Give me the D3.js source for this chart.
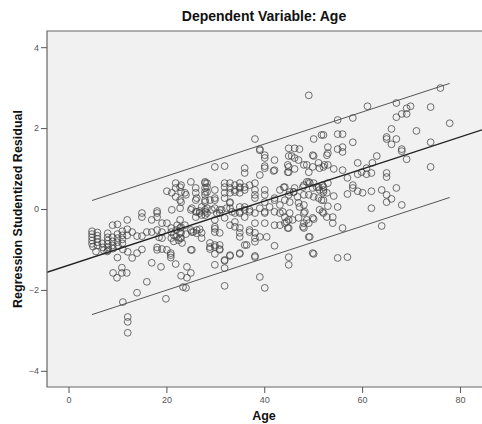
<!DOCTYPE html>
<html>
<head>
<meta charset="utf-8">
<script src="https://cdn.jsdelivr.net/npm/d3@7"></script>
<style>
  body { margin: 0; background: #fff; }
  text { font-family: "Liberation Sans", Arial, sans-serif; }
</style>
</head>
<body>
<div id="chart"></div>
<script>
// [age, studentized residual]
var points = [
  [4.8,-0.55],[4.8,-0.62],[4.8,-0.70],[4.8,-0.78],[4.8,-0.86],[5.0,-0.93],
  [5.9,-0.58],[5.9,-0.66],[5.9,-0.74],[5.9,-0.82],[5.9,-0.90],[5.6,-1.05],
  [6.9,-0.85],[7.0,-0.95],[7.2,-1.02],[7.9,-1.05],
  [8.0,-0.60],[8.0,-0.70],[8.0,-0.78],[8.0,-0.86],[8.1,-0.95],[8.1,-1.02],
  [9.0,-0.40],[9.0,-0.70],[9.0,-0.80],[9.0,-0.90],[9.1,-0.98],
  [10.0,-0.38],[10.0,-0.62],[10.0,-0.72],[10.0,-0.82],[10.0,-1.20],[10.1,-0.92],
  [11.0,-0.55],[11.0,-0.65],[11.0,-0.75],[11.0,-0.85],[11.1,-1.00],
  [12.0,-0.27],[12.0,-0.50],[12.1,-1.06],[12.0,-0.65],
  [13.0,-0.57],[13.0,-1.21],[14.0,-0.67],[14.0,-1.09],[15.0,-1.00],[15.0,-0.20],[15.0,-0.10],
  [9.1,-1.58],[9.9,-1.70],[10.9,-1.58],[11.9,-1.58],[10.9,-1.45],[11.1,-2.30],
  [12.1,-2.67],[12.1,-2.79],[12.1,-3.06],[14.0,-2.07],[16.0,-1.80],[17.0,-1.33],
  [18.9,-1.43],[20.9,-1.14],[20.9,-1.20],[19.9,-2.22],[21.9,-1.36],[23.0,-1.65],
  [24.0,-1.95],[25.0,-1.58],
  [16.0,-0.57],[17.0,-0.57],[15.0,-0.67],[18.1,-0.10],[18.1,-0.20],[17.0,-0.27],
  [19.1,-0.35],[20.1,-0.35],[18.1,-0.52],[19.1,-0.57],[19.1,-0.72],[18.5,-0.70],
  [18.1,-0.95],[18.1,-1.01],[19.1,-0.99],[20.1,-1.01],[20.9,-1.09],[25.0,-1.01],
  [21.0,-0.47],[21.0,-0.57],[21.5,-0.64],[22.0,-0.52],[22.0,-0.69],[22.5,-0.77],
  [23.0,-0.59],[23.0,-0.72],[21.5,-0.80],[22.2,-0.40],[23.0,-0.45],[21.0,-0.72],
  [25.0,-0.52],[25.5,-0.57],[26.2,-0.60],[26.8,-0.50],[24.0,-0.62],
  [26.8,-0.10],[27.2,-0.15],[26.0,-0.20],
  [20.1,0.44],[21.1,0.40],[21.9,0.64],[23.0,0.59],[21.9,0.52],[23.0,0.42],[24.0,0.35],
  [21.9,0.30],[23.0,0.17],[25.0,0.67],[26.0,0.52],[26.0,0.40],[26.0,0.22],[27.9,0.64],
  [27.9,0.42],[27.9,0.22],[21.1,-0.02],[18.1,-0.05],[25.0,-0.02],[26.0,-0.07],
  [26.8,-0.05],[27.9,-0.02],
  [22.8,0.54],[22.8,0.22],[23.8,0.40],[26.2,0.27],[28.3,0.64],[28.3,0.54],[28.3,0.42],
  [29.9,0.47],[29.9,0.27],[31.9,0.64],[31.9,0.54],[33.0,0.64],[33.0,0.52],[33.0,0.40],
  [34.0,0.59],[34.0,0.47],[35.0,0.64],[35.0,0.52],[36.0,0.47],[37.0,0.59],[38.1,0.47],
  [38.1,0.35],[40.1,0.47],[40.1,0.35],[40.1,0.17],[42.1,0.22],[43.2,0.47],[44.2,0.54],
  [45.2,0.42],[46.2,0.52],[46.8,0.30],[47.9,0.54],[48.7,0.67],[49.3,0.64],[49.9,0.52],
  [50.7,0.54],[51.3,0.47],[51.9,0.59],[52.8,0.40],[53.0,0.64],
  [27.9,0.67],[27.9,0.52],[27.9,0.35],[27.9,0.17],[28.9,0.22],[29.9,0.22],[31.9,0.40],
  [31.9,0.27],[34.0,0.42],[35.0,0.54],[35.0,0.40],[36.0,0.54],[38.1,0.64],[38.1,0.27],
  [33.0,0.17],[33.0,0.02],[35.0,0.05],[36.0,-0.02],[37.0,-0.02],[30.9,-0.02],[29.9,0.02],
  [27.9,-0.07],[42.1,0.27],[44.0,0.54],[44.2,0.22],[43.2,0.10],[45.2,0.17],[46.0,0.42],
  [47.0,0.15],[48.1,0.10],
  [49.1,2.81],[38.1,1.73],[39.1,1.48],[40.1,1.33],[40.1,1.26],[42.1,1.21],[40.1,1.01],
  [42.1,0.96],[39.1,0.84],[36.0,1.01],[36.0,0.89],[29.9,1.04],[31.9,1.06],[45.0,1.50],
  [46.2,1.50],[47.2,1.48],[45.0,1.31],[46.2,1.26],[47.0,1.21],[45.0,1.04],[45.0,0.91],
  [46.2,0.99],[48.1,1.09],[49.1,0.91],[50.1,1.73],[52.1,1.83],[50.1,1.31],[51.1,1.14],
  [52.1,1.04],[46.0,0.42],[45.0,0.35],[48.1,0.59],[49.1,0.67],[50.1,0.64],[51.1,0.54],
  [48.1,0.35],[49.1,0.35],[50.1,0.30],[51.1,0.27],[52.1,0.42],[52.1,0.22],
  [41.9,0.94],[44.8,1.09],[44.8,0.91],[45.6,1.31],[48.7,1.09],[49.9,1.33],[49.9,1.04],
  [51.3,1.01],[52.3,1.09],[52.8,1.33],[39.1,1.45],[40.1,1.06],
  [31.9,-1.90],[40.1,-1.95],[39.1,-1.68],[31.9,-1.46],[31.9,-1.28],[33.0,-1.16],
  [29.9,-1.38],[29.9,-1.11],[28.9,-0.94],[29.9,-0.89],[30.9,-0.89],[28.9,-0.99],
  [30.9,-0.99],[35.0,-1.11],[38.1,-1.16],[36.0,-0.89],[42.1,-0.91],[45.0,-1.19],
  [45.0,-1.38],[50.1,-1.11],[49.1,-0.69],
  [27.9,-0.15],[29.9,-0.27],[30.9,-0.10],[31.9,-0.22],[34.0,-0.10],[35.0,-0.10],
  [34.0,-0.32],[36.0,-0.20],[37.0,-0.07],[38.1,-0.35],[40.1,-0.10],[40.1,-0.35],
  [42.1,-0.40],[43.2,-0.10],[44.2,-0.20],[44.2,-0.35],[45.0,-0.27],[45.0,-0.47],
  [47.0,-0.22],[48.1,-0.10],[48.1,-0.35],[48.1,-0.47],[49.1,-0.35],[50.1,-0.25],
  [52.1,-0.10],[29.9,-0.49],[30.9,-0.59],[35.0,-0.47],[35.0,-0.59],[35.0,-0.69],
  [37.0,-0.57],[38.1,-0.59],[38.1,-0.72],[38.1,-0.81],[27.2,-0.59],[27.2,-0.72],
  [28.9,-0.84],[36.4,-0.89],[49.9,-1.09],[25.2,-1.01],[24.2,-1.43],[24.2,-1.70],
  [23.4,-1.93],[31.9,-1.26],
  [22.8,0.02],[25.2,0.02],[26.2,-0.07],[27.2,0.05],[28.3,0.02],[28.3,-0.10],[29.3,-0.02],
  [30.3,-0.10],[31.3,-0.02],[32.3,0.02],[33.0,0.15],[33.4,-0.07],[35.0,-0.07],[36.0,0.05],
  [38.1,-0.10],[39.1,0.02],[40.1,-0.07],[41.1,0.05],[42.1,-0.07],[43.8,-0.07],
  [44.6,-0.32],[45.2,-0.10],[45.8,-0.27],[47.2,0.05],[48.3,-0.07],[48.7,-0.27],
  [49.9,-0.22],[51.3,-0.02],[51.9,-0.07],[52.8,-0.20],
  [22.8,-0.27],[23.8,-0.40],[25.2,-0.57],[26.2,-0.52],[29.9,-0.44],[29.9,-0.57],
  [33.0,-0.40],[34.0,-0.44],[37.0,-0.52],[39.1,-0.69],[40.5,-0.69],[43.2,-0.40],
  [44.8,-0.47],[47.9,-0.44],[49.3,-0.69],[22.8,-0.47],[22.8,-0.59],[22.8,-0.72],
  [23.2,-0.84],[29.9,-0.94],[30.9,-1.01],[33.0,-1.14],[35.0,-1.09],[38.1,-1.19],
  [76.0,2.99],[74.0,2.52],[77.9,2.12],[74.0,1.65],[74.0,1.04],[61.1,2.54],[67.0,2.62],
  [69.1,2.49],[69.9,2.54],[68.1,2.35],[69.1,2.35],[67.0,2.27],[55.0,2.20],[58.1,2.25],
  [51.7,1.83],[55.0,1.85],[56.0,1.85],[53.0,1.53],[53.0,1.38],[55.0,1.48],[56.0,1.53],
  [56.0,1.41],[58.1,1.65],[66.0,1.98],[65.0,1.78],[65.0,1.73],[67.0,1.73],[66.0,1.60],
  [68.1,1.48],[68.1,1.43],[71.1,1.93],[69.1,1.23],[53.0,1.09],[54.2,0.99],[56.0,0.96],
  [59.1,1.14],[62.1,1.14],[63.0,1.31],[60.9,1.01],[59.9,0.91],[61.9,0.89],[60.9,0.86],
  [59.1,0.86],[57.0,0.77],[65.0,0.89],[65.0,0.79],
  [52.1,0.54],[52.1,0.47],[54.2,0.32],[57.0,0.37],[58.1,0.59],[58.1,0.52],[59.1,0.44],
  [60.1,0.40],[61.9,0.44],[64.0,0.47],[65.0,0.35],[66.0,0.25],[67.0,0.52],[65.0,0.17],
  [68.1,0.10],[61.9,0.02],[55.0,0.05],[53.0,0.07],[51.7,0.22],
  [54.0,-0.20],[54.0,-0.35],[56.0,-0.47],[64.0,-0.42],[55.0,-1.21],[57.0,-1.19]
]

var xTicks = [0, 20, 40, 60, 80]
var yTicks = [4, 2, 0, -2, -4]

// fit line and prediction band (residual = a + b*age, band +/- w)
var fitIntercept = -1.39
var fitSlope = 0.0396
var bandWidth = 1.41

var titleText = "Dependent Variable: Age"
var xLabel = "Age"
var yLabel = "Regression Studentized Residual"

var W = 482, H = 424
var pLeft = 47, pRight = 482, pTop = 31, pBottom = 387

var svg = d3.select("#chart").append("svg").attr("width", W).attr("height", H)

var x = d3.scaleLinear().domain([-4.4, 84.5]).range([pLeft, pRight])
var y = d3.scaleLinear().domain([-4.4, 4.4]).range([pBottom, pTop])

svg.append("defs").append("clipPath").attr("id", "clip")
  .append("rect").attr("x", pLeft).attr("y", pTop)
  .attr("width", pRight - pLeft).attr("height", pBottom - pTop)

svg.append("rect")
  .attr("x", pLeft).attr("y", pTop)
  .attr("width", pRight - pLeft).attr("height", pBottom - pTop)
  .attr("fill", "#f1f1f1")

var plot = svg.append("g").attr("clip-path", "url(#clip)")

var ageRange = d3.extent(points, function(d){ return d[0] })

// band lines
;[bandWidth, -bandWidth].forEach(function(off){
  plot.append("line")
    .attr("x1", x(ageRange[0])).attr("x2", x(ageRange[1]))
    .attr("y1", y(fitIntercept + fitSlope*ageRange[0] + off))
    .attr("y2", y(fitIntercept + fitSlope*ageRange[1] + off))
    .attr("stroke", "#555").attr("stroke-width", 1)
})

plot.selectAll("circle")
  .data(points)
  .enter()
  .append("circle")
  .attr("cx", function(d){ return x(d[0]) })
  .attr("cy", function(d){ return y(d[1]) })
  .attr("r", 3.4)
  .attr("fill", "none")
  .attr("stroke", "#444")
  .attr("stroke-opacity", 0.85)
  .attr("stroke-width", 0.9)

// fit line across the whole frame
plot.append("line")
  .attr("x1", x(-4.4)).attr("x2", x(84.5))
  .attr("y1", y(fitIntercept + fitSlope*(-4.4)))
  .attr("y2", y(fitIntercept + fitSlope*84.5))
  .attr("stroke", "#222").attr("stroke-width", 1.3)

// frame
svg.append("path")
  .attr("d", "M" + pRight + "," + pTop + "H" + pLeft + "V" + pBottom + "H" + pRight)
  .attr("fill", "none").attr("stroke", "#666").attr("stroke-width", 1.2)

var xAxis = svg.append("g")
  .attr("transform", "translate(0," + pBottom + ")")
  .call(d3.axisBottom(x).tickValues(xTicks).tickSize(6).tickPadding(4))
var yAxis = svg.append("g")
  .attr("transform", "translate(" + pLeft + ",0)")
  .call(d3.axisLeft(y).tickValues(yTicks).tickSize(6).tickPadding(2))

;[xAxis, yAxis].forEach(function(a){
  a.select(".domain").remove()
  a.selectAll("line").attr("stroke", "#555")
  a.selectAll("text").attr("fill", "#555").attr("font-size", "9px")
    .attr("font-family", "Liberation Sans, Arial, sans-serif")
})

svg.append("text").text(titleText)
  .attr("x", 264).attr("y", 21)
  .attr("text-anchor", "middle")
  .attr("font-size", "14px").attr("font-weight", "bold").attr("fill", "#111")

svg.append("text").text(xLabel)
  .attr("x", 264).attr("y", 420)
  .attr("text-anchor", "middle")
  .attr("font-size", "12.5px").attr("font-weight", "bold").attr("fill", "#111")

svg.append("text").text(yLabel)
  .attr("transform", "translate(22," + ((pTop + pBottom)/2) + ") rotate(-90)")
  .attr("text-anchor", "middle")
  .attr("font-size", "12.5px").attr("font-weight", "bold").attr("fill", "#111")
</script>
</body>
</html>
